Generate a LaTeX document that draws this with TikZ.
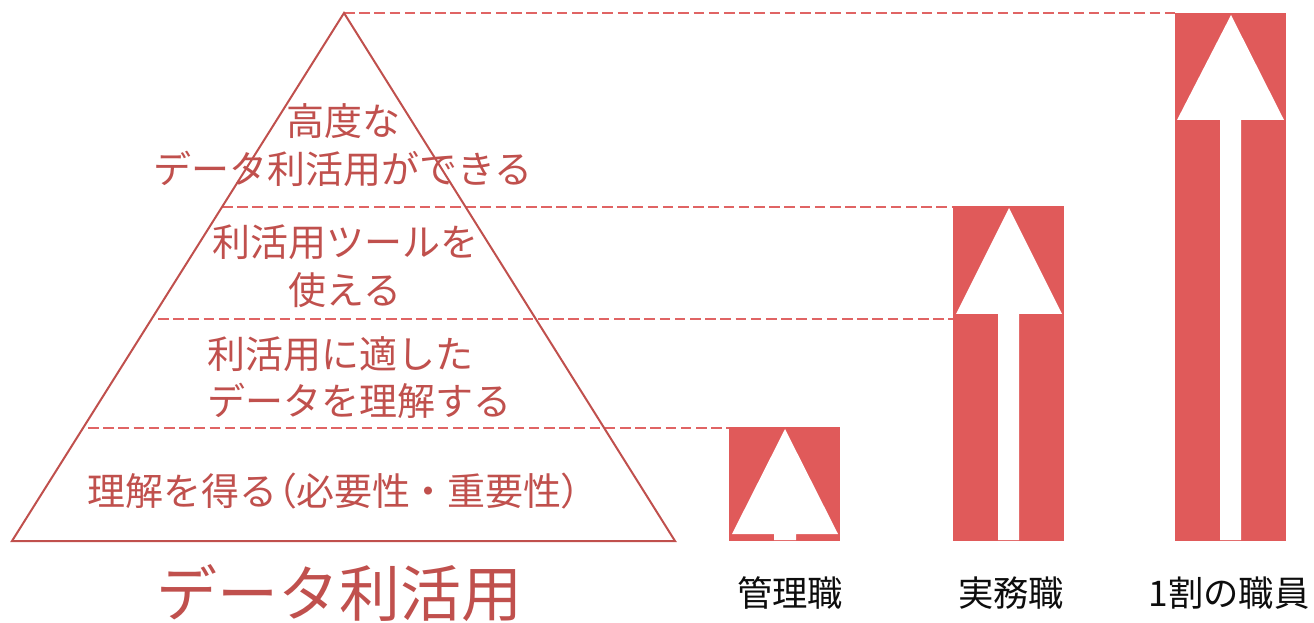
\documentclass[tikz,border=0pt]{standalone}
\usepackage{fontspec}
\setmainfont{Noto Sans CJK JP}
\newfontfamily\jpp[RawFeature=+palt]{Noto Sans CJK JP}
\definecolor{txtc}{HTML}{C0504D}
\definecolor{barc}{HTML}{E05A5A}
\definecolor{guidec}{HTML}{E06464}
\definecolor{labc}{HTML}{0D0D0D}
\begin{document}
\begin{tikzpicture}[x=0.75pt,y=-0.75pt,
  guide/.style={draw=guidec, line width=0.8pt, dash pattern=on 8pt off 3.4pt},
  barbox/.style={fill=barc},
  uparrow/.style={fill=white},
  lvl/.style={text=txtc, font=\fontsize{28.5}{35.6}\selectfont, inner sep=0pt},
  joblabel/.style={text=labc, font=\fontsize{26.5}{30}\selectfont, inner sep=0pt},
  pyr/.style={draw=txtc, line width=1.5pt, line join=miter}
]
\useasboundingbox (0,0) rectangle (1314,623);

% pyramid corners
\coordinate (apex) at (344,13);
\coordinate (bl) at (12,541);
\coordinate (br) at (675,541);
% level guide starts
\coordinate (l2) at (222,207);
\coordinate (l3) at (158,319);
\coordinate (l4) at (88,428);
% bar tops
\coordinate (b1) at (729,428);
\coordinate (b2) at (953,207);
\coordinate (b2m) at (953,319);
\coordinate (b3) at (1175,13);

% guide lines
\draw[guide] (apex) -- (b3);
\draw[guide] (l2) -- (b2);
\draw[guide] (l3) -- (b2m);
\draw[guide] (l4) -- (b1);

% pyramid
\draw[pyr] (apex) -- (br) -- (bl) -- cycle;

% bars
\fill[barbox] (729,427) rectangle (840,541);
\fill[barbox] (953,206) rectangle (1064,541);
\fill[barbox] (1175,13) rectangle (1286,541);

% arrows
\fill[uparrow] (785,429) -- (838,534) -- (796,534) -- (796,540) -- (774,540) -- (774,534) -- (732,534) -- cycle;
\fill[uparrow] (1009,208) -- (1062,314) -- (1019,314) -- (1019,540) -- (998,540) -- (998,314) -- (956,314) -- cycle;
\fill[uparrow] (1231,15) -- (1284,120) -- (1241,120) -- (1241,540) -- (1220,540) -- (1220,120) -- (1177,120) -- cycle;

% pyramid texts
\node[lvl, align=center] (t1) at (343,145) {高度な\\データ利活用ができる};
\node[lvl, align=center] (t2) at (345,266) {利活用ツールを\\使える};
\node[lvl, align=left, anchor=west] (t3) at (207,377.5) {利活用に適した\\データを理解する};
\node[lvl] (t4) at (334,491) {理解を得る{\jpp （}必要性・重要性{\jpp ）}};

% title
\node[text=txtc, font=\fontsize{45.75}{50}\selectfont, inner sep=0pt] (title) at (339,593) {データ利活用};

% job labels
\node[joblabel] (j1) at (790,593) {管理職};
\node[joblabel] (j2) at (1011,593) {実務職};
\node[joblabel] (j3) at (1229,593) {1割の職員};
\end{tikzpicture}
\end{document}
